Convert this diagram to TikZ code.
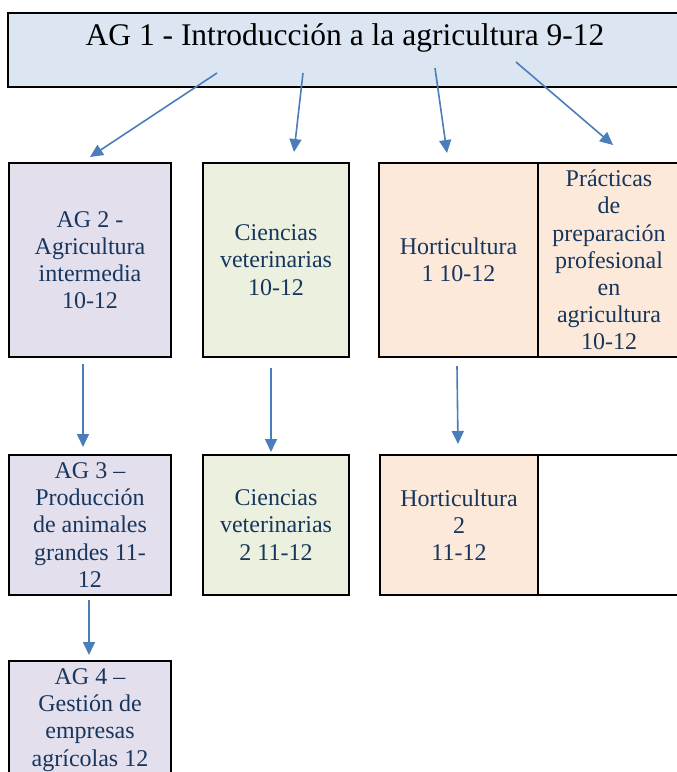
\documentclass[tikz,border=0pt]{standalone}
\usepackage{fontspec}
\setmainfont{Liberation Serif}
\usetikzlibrary{arrows.meta, positioning}
\definecolor{azulcl}{RGB}{220, 230, 242}
\definecolor{lila}{RGB}{228, 223, 236}
\definecolor{verde}{RGB}{235, 241, 222}
\definecolor{melocoton}{RGB}{253, 233, 217}
\definecolor{marino}{RGB}{23, 54, 93}
\definecolor{flecha}{RGB}{74, 126, 187}
\tikzset{
    cab/.style={draw=black, line width=1.6pt, rectangle, fill=azulcl, text=black, inner xsep=0pt, inner ysep=5pt, outer sep=0pt, font=\fontsize{31.5}{36}\selectfont},
    curso/.style={draw=black, line width=1.6pt, rectangle, text=marino, align=center, inner sep=0pt, outer sep=0pt, font=\fontsize{24}{27.2}\selectfont},
    conn/.style={-{Triangle[length=13pt, width=12pt]}, flecha, line width=1.6pt},
}
\begin{document}
\begin{tikzpicture}[x=1pt, y=-1pt]
    \useasboundingbox (0,0) rectangle (677,772);
    \node [cab, anchor=north, minimum width=674pt, text height=27pt, text depth=37pt] (ag1) at (345,13) {AG 1 - Introducción a la agricultura 9-12};

    % primera fila
    \node [curso, fill=lila, minimum width=162pt, minimum height=194pt] (ag2) at (90,260) {AG 2 -\\Agricultura\\intermedia\\10-12};
    \node [curso, fill=verde, minimum width=146pt, minimum height=194pt] (cv1) at (276,260) {Ciencias\\veterinarias\\10-12};
    \node [curso, fill=melocoton, minimum width=159pt, minimum height=194pt] (h1) at (458.5,260) {Horticultura\\1 10-12};
    \node [curso, fill=melocoton, minimum width=142pt, minimum height=194pt, right=0pt of h1] (prac) {Prácticas\\de\\preparación\\profesional\\en\\agricultura\\10-12};

    % segunda fila
    \node [curso, fill=lila, minimum width=162pt, minimum height=140pt] (ag3) at (90,525) {AG 3 –\\Producción\\de animales\\grandes 11-\\12};
    \node [curso, fill=verde, minimum width=146pt, minimum height=140pt] (cv2) at (276,525) {Ciencias\\veterinarias\\2 11-12};
    \node [curso, fill=melocoton, minimum width=158pt, minimum height=140pt] (h2) at (459,525) {Horticultura\\2\\11-12};
    \node [curso, fill=white, minimum width=142pt, minimum height=140pt, right=0pt of h2] (vacio) {};

    % tercera fila
    \node [curso, fill=lila, minimum width=162pt, minimum height=118pt] (ag4) at (90,720) {AG 4 –\\Gestión de\\empresas\\agrícolas 12};

    \coordinate (s1) at (217,73);
    \coordinate (s2) at (303,73);
    \coordinate (s3) at (435,68);
    \coordinate (s4) at (516,62);

    \draw[conn] (s1) -- ([yshift=6pt]ag2.north);
    \draw[conn] (s2) -- ([xshift=18pt, yshift=11pt]cv1.north);
    \draw[conn] (s3) -- ([xshift=-11.5pt, yshift=10pt]h1.north);
    \draw[conn] (s4) -- ([xshift=4pt, yshift=18pt]prac.north);

    \draw[conn] ([xshift=-7pt, yshift=-7pt]ag2.south) -- ([xshift=-7pt, yshift=8pt]ag3.north);
    \draw[conn] ([xshift=-5pt, yshift=-11pt]cv1.south) -- ([xshift=-5pt, yshift=3pt]cv2.north);
    \draw[conn] ([xshift=-1.5pt, yshift=-9pt]h1.south) -- ([xshift=-1pt, yshift=11pt]h2.north);
    \draw[conn] ([xshift=-1pt, yshift=-5pt]ag3.south) -- ([xshift=-1pt, yshift=6pt]ag4.north);
\end{tikzpicture}
\end{document}
